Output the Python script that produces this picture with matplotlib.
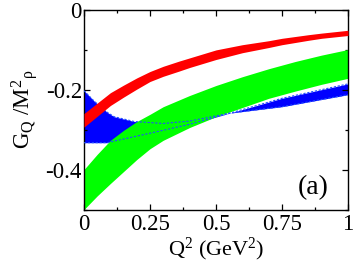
import matplotlib
matplotlib.use("Agg")
import matplotlib.pyplot as plt
from matplotlib.ticker import FixedLocator, FixedFormatter

plt.rcParams['font.family'] = ['Liberation Serif', 'DejaVu Serif']
plt.rcParams['mathtext.fontset'] = 'custom'
plt.rcParams['mathtext.rm'] = 'Liberation Serif'
plt.rcParams['mathtext.it'] = 'Liberation Serif'
plt.rcParams['mathtext.bf'] = 'Liberation Serif'

# Red band
q_red = [0.0, 0.1, 0.15, 0.2, 0.25, 0.3, 0.36, 0.4, 0.5, 0.6, 0.7, 0.75, 0.85, 0.9, 1.0]
red_hi = [-0.260, -0.208, -0.189, -0.171, -0.155, -0.142, -0.129, -0.121, -0.101,
          -0.088, -0.078, -0.072, -0.063, -0.059, -0.052]
red_lo = [-0.294, -0.240, -0.219, -0.199, -0.180, -0.167, -0.154, -0.145, -0.125,
          -0.108, -0.095, -0.088, -0.077, -0.072, -0.065]

# Green band
q_green = [0.0, 0.05, 0.1, 0.15, 0.2, 0.25, 0.3, 0.4, 0.5, 0.6, 0.7, 0.8, 0.9, 1.0]
green_hi = [-0.400, -0.362, -0.327, -0.302, -0.280, -0.262, -0.243, -0.215, -0.190,
            -0.168, -0.148, -0.130, -0.114, -0.100]
green_lo = [-0.500, -0.466, -0.435, -0.405, -0.375, -0.348, -0.327, -0.295, -0.268,
            -0.245, -0.222, -0.204, -0.187, -0.172]

# Blue band
q_blue = [0.0, 0.04, 0.088, 0.114, 0.19, 0.3, 0.4, 0.553, 0.75, 1.0]
blue_a = [-0.203, -0.230, -0.257, -0.268, -0.280, -0.285, -0.279, -0.259, -0.222, -0.186]
blue_b = [-0.333, -0.333, -0.333, -0.329, -0.318, -0.302, -0.287, -0.259, -0.243, -0.213]

x_ticks = [0, 0.25, 0.5, 0.75, 1.0]
x_labels = ["0", "0.25", "0.5", "0.75", "1"]
y_ticks = [0, -0.2, -0.4]
y_labels = ["0", "-0.2", "-0.4"]

fig = plt.figure(figsize=(3.54, 2.64), dpi=100)
ax = fig.add_axes([84/354, 1 - 209.5/264, (348-84)/354, 200/264])

ax.fill_between(q_blue, blue_a, blue_b, color='#0000ff', lw=0, zorder=1)
ax.fill_between(q_green, green_lo, green_hi, color='#00ff00', lw=0, zorder=2)
ax.plot(q_blue, blue_a, color='#2050ff', lw=0.8, dashes=(2, 1.5), zorder=3)
ax.plot(q_blue, blue_b, color='#2050ff', lw=0.8, dashes=(2, 1.5), zorder=3)
ax.fill_between(q_red, red_lo, red_hi, color='#ff0000', lw=0, zorder=4)

ax.set_xlim(0, 1)
ax.set_ylim(-0.5, 0)
ax.xaxis.set_major_locator(FixedLocator(x_ticks))
ax.xaxis.set_major_formatter(FixedFormatter(x_labels))
ax.xaxis.set_minor_locator(FixedLocator([0.125, 0.375, 0.625, 0.875]))
ax.yaxis.set_major_locator(FixedLocator(y_ticks))
ax.yaxis.set_major_formatter(FixedFormatter(y_labels))
ax.yaxis.set_minor_locator(FixedLocator([-0.1, -0.3, -0.5]))
ax.tick_params(which='both', direction='in', top=True, right=True, labelsize=16.5, width=0.9)
ax.tick_params(which='major', length=4.5)
ax.tick_params(axis='x', which='major', pad=3)
ax.tick_params(axis='y', which='major', pad=1.5)
ax.tick_params(which='minor', length=2.2)
for s in ax.spines.values():
    s.set_linewidth(1.0)

ax.set_xlabel(r"Q$^2$ (GeV$^2$)", fontsize=16, labelpad=0.5)
ax.set_ylabel(r"G$_\mathrm{Q}$ /M$^2$$_\rho$", fontsize=16.5, labelpad=4)
ax.text(0.867, 0.11, "(a)", transform=ax.transAxes, fontsize=20, ha='center', va='center')

fig.savefig("out.png", dpi=100)
